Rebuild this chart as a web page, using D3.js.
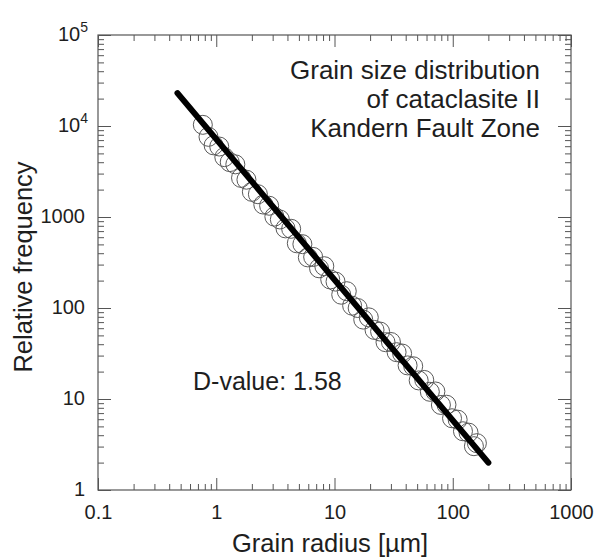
<!DOCTYPE html>
<html>
<head>
<meta charset="utf-8">
<script src="https://cdn.jsdelivr.net/npm/d3@7"></script>
<style>
  body { margin: 0; background: #fff; }
  svg { display: block; font-family: "Liberation Sans", Arial, sans-serif; }
</style>
</head>
<body>
<svg id="chart" width="596" height="559"></svg>
<script>
// grain radius (µm) and relative frequency
const radius = [0.77, 0.86, 0.95, 1.06, 1.17, 1.3, 1.45, 1.62, 1.8, 2.0, 2.25, 2.5, 2.8, 3.1, 3.45, 3.85,
  4.3, 4.8, 5.35, 5.95, 6.6, 7.4, 8.2, 9.2, 10.2, 11.4, 12.7, 14.1, 15.7, 17.5, 19.5, 21.8, 24.3, 27, 30,
  33.5, 37.3, 41.5, 46.3, 51.5, 57.4, 64, 71.3, 79.4, 88.5, 98.6, 110, 122, 136, 151, 160];
const frequency = [10300, 7600, 6130, 5950, 4550, 4010, 3790, 2690, 2570, 1890, 1780, 1370, 1330, 1010,
  940, 750, 742, 514, 503, 360, 364, 273, 288, 206, 195, 140, 153, 106, 100, 74.6, 78.9, 57.4, 55.1,
  42.1, 42.3, 32.7, 31.6, 23.4, 22.9, 16.0, 16.2, 12.0, 12.1, 8.6, 8.65, 6.14, 5.93, 4.42, 4.27, 3.03, 3.27];

// fitted power law line, end points
const fitRadius = [0.47, 200];
const fitFrequency = [23000, 2.0];

const xTicks = [0.1, 1, 10, 100, 1000];
const yTicks = [1, 10, 100, 1000, 10000, 100000];
const yTickLabels = ["1", "10", "100", "1000", ["10", "4"], ["10", "5"]];
const noteLines = ["Grain size distribution", "of cataclasite II", "Kandern Fault Zone"];
const dValue = "D-value: 1.58";

const plot = { left: 98, right: 571, top: 35, bottom: 490 };
const axisColor = "#555";
const textColor = "#1e1e1e";

const svg = d3.select("#chart");

const x = d3.scaleLog().domain([0.1, 1000]).range([plot.left, plot.right]);
const y = d3.scaleLog().domain([1, 100000]).range([plot.bottom, plot.top]);

// minor ticks 2..9 in every decade
const minorX = [];
xTicks.slice(0, -1).forEach((d) => { for (let k = 2; k <= 9; k++) minorX.push(d * k); });
const minorY = [];
yTicks.slice(0, -1).forEach((d) => { for (let k = 2; k <= 9; k++) minorY.push(d * k); });

function styleAxis(g) {
  g.select(".domain").remove();
  g.selectAll(".tick line").attr("stroke", axisColor).attr("stroke-width", 1);
  g.selectAll("text").attr("fill", textColor).style("font-size", "20px")
    .style("font-family", '"Liberation Sans", Arial, sans-serif');
}

// bottom
svg.append("g").attr("transform", `translate(0,${plot.bottom})`)
  .call(d3.axisBottom(x).tickValues(minorX).tickSize(-6).tickSizeOuter(0).tickFormat(""))
  .call(styleAxis);
svg.append("g").attr("transform", `translate(0,${plot.bottom})`)
  .call(d3.axisBottom(x).tickValues(xTicks).tickSize(-12).tickSizeOuter(0).tickPadding(15)
    .tickFormat((d) => String(d)))
  .call(styleAxis);
// top
svg.append("g").attr("transform", `translate(0,${plot.top})`)
  .call(d3.axisTop(x).tickValues(minorX).tickSize(-6).tickSizeOuter(0).tickFormat(""))
  .call(styleAxis);
svg.append("g").attr("transform", `translate(0,${plot.top})`)
  .call(d3.axisTop(x).tickValues(xTicks).tickSize(-12).tickSizeOuter(0).tickFormat(""))
  .call(styleAxis);
// right
svg.append("g").attr("transform", `translate(${plot.right},0)`)
  .call(d3.axisRight(y).tickValues(minorY).tickSize(-6).tickSizeOuter(0).tickFormat(""))
  .call(styleAxis);
svg.append("g").attr("transform", `translate(${plot.right},0)`)
  .call(d3.axisRight(y).tickValues(yTicks).tickSize(-13).tickSizeOuter(0).tickFormat(""))
  .call(styleAxis);
// left
svg.append("g").attr("transform", `translate(${plot.left},0)`)
  .call(d3.axisLeft(y).tickValues(minorY).tickSize(-6).tickSizeOuter(0).tickFormat(""))
  .call(styleAxis);
const yAxis = svg.append("g").attr("transform", `translate(${plot.left},0)`)
  .call(d3.axisLeft(y).tickValues(yTicks).tickSize(-13).tickSizeOuter(0).tickPadding(13).tickFormat(""))
  .call(styleAxis);

yAxis.selectAll(".tick text").each(function (d, i) {
  const t = d3.select(this).attr("dy", "0.28em");
  const lab = yTickLabels[i];
  if (Array.isArray(lab)) {
    t.attr("x", -10);
    t.append("tspan").text(lab[0]);
    t.append("tspan").attr("dy", "-0.62em").style("font-size", "14px").text(lab[1]);
  } else {
    t.text(lab);
  }
});

// frame
svg.append("rect")
  .attr("x", plot.left).attr("y", plot.top)
  .attr("width", plot.right - plot.left).attr("height", plot.bottom - plot.top)
  .attr("fill", "none").attr("stroke", axisColor).attr("stroke-width", 1.2);

// data points
svg.append("g")
  .selectAll("circle")
  .data(radius)
  .join("circle")
  .attr("cx", (d) => x(d))
  .attr("cy", (d, i) => y(frequency[i]))
  .attr("r", 9.5)
  .attr("fill", "none")
  .attr("stroke", "#5a5a5a")
  .attr("stroke-width", 1);

// fitted line
svg.append("path")
  .datum(fitRadius.map((d, i) => [d, fitFrequency[i]]))
  .attr("d", d3.line().x((d) => x(d[0])).y((d) => y(d[1])))
  .attr("stroke", "#000")
  .attr("stroke-width", 6)
  .attr("stroke-linecap", "round")
  .attr("fill", "none");

// annotation
svg.append("g")
  .selectAll("text")
  .data(noteLines)
  .join("text")
  .attr("x", 540)
  .attr("y", (d, i) => 79 + i * 29)
  .attr("text-anchor", "end")
  .attr("fill", textColor)
  .style("font-size", "26px")
  .text((d) => d);

svg.append("text")
  .attr("x", 193).attr("y", 390)
  .attr("fill", textColor)
  .style("font-size", "25px")
  .text(dValue);

// axis titles
svg.append("text")
  .attr("x", 330).attr("y", 552)
  .attr("text-anchor", "middle")
  .attr("fill", textColor)
  .style("font-size", "25.5px")
  .text("Grain radius [µm]");

svg.append("text")
  .attr("transform", "translate(32,267) rotate(-90)")
  .attr("text-anchor", "middle")
  .attr("fill", textColor)
  .style("font-size", "25.5px")
  .text("Relative frequency");
</script>
</body>
</html>
